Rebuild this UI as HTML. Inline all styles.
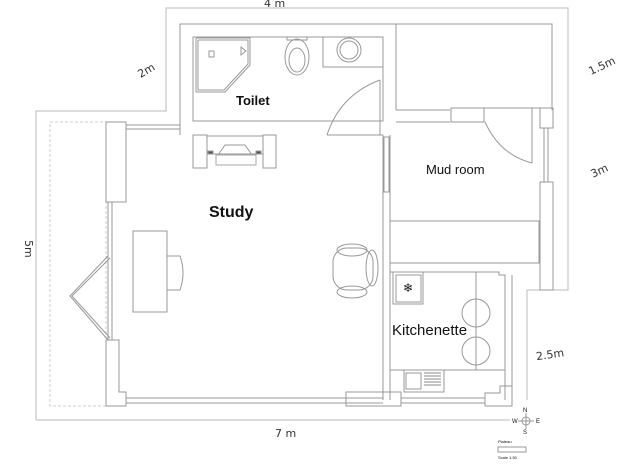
<!DOCTYPE html>
<html><head><style>
body{margin:0;background:#fff;width:640px;height:469px;overflow:hidden}
svg{display:block}
text{font-family:"Liberation Sans",sans-serif;fill:#111}
.h{font-family:"DejaVu Sans",sans-serif;font-size:11px;fill:#333}
</style></head><body>
<svg width="640" height="469" viewBox="0 0 640 469" xmlns="http://www.w3.org/2000/svg" fill="none" stroke="#999" stroke-width="1">
<polyline points="36,420 36,111 166,111 166,8 568,8 568,290 527,290 527,400" stroke="#bbb"/>
<line x1="36" y1="420" x2="510" y2="420" stroke="#bbb"/>
<rect x="50" y="122" width="56" height="284" stroke="#ccc" stroke-dasharray="3,2"/>
<polyline points="180,135 180,24 552,24 552,110"/>
<rect x="193" y="37" width="190" height="84"/>
<line x1="396" y1="24" x2="396" y2="110"/>
<polyline points="196,38 250,38 250,65 225,92 196,92 196,38"/>
<polyline points="198,40 248,40 248,64 224,90 198,90 198,40"/>
<rect x="209" y="51" width="5" height="6"/>
<polygon points="241,47 246,51 241,55"/>
<ellipse cx="297" cy="57" rx="12" ry="18"/><ellipse cx="297" cy="60" rx="8" ry="12"/>
<rect x="287" y="37" width="20" height="3"/>
<rect x="323" y="37" width="60" height="30"/>
<circle cx="349" cy="50" r="12"/><circle cx="349" cy="50" r="9"/>
<path d="M327,135 Q340,95 380,80"/><line x1="380" y1="80" x2="380" y2="135"/><line x1="327" y1="135" x2="383" y2="135"/>
<rect x="193" y="135" width="14" height="33"/><rect x="263" y="135" width="13" height="33"/>
<rect x="207" y="136" width="56" height="18"/>
<polyline points="218,155 225,145 245,145 252,155"/>
<rect x="208" y="151" width="5" height="3" fill="#555"/><rect x="256" y="151" width="5" height="3" fill="#555"/>
<rect x="216" y="155" width="40" height="10" stroke="#aaa"/>
<rect x="106" y="122" width="20" height="80"/>
<line x1="126" y1="125" x2="180" y2="125"/><line x1="126" y1="129" x2="180" y2="129"/>
<line x1="108" y1="202" x2="108" y2="340"/><line x1="112" y1="202" x2="112" y2="340"/>
<polyline points="110,258 72,296 110,338"/><polyline points="108,256 70,296 108,340"/>
<polyline points="106,340 119,340 119,392 126,392 126,406 106,406 106,340"/>
<line x1="126" y1="398" x2="383" y2="398"/><line x1="126" y1="403" x2="383" y2="403"/>
<rect x="133" y="231" width="34" height="81"/>
<path d="M167,256 H180 Q186,273 180,290 H167"/>
<rect x="333" y="248" width="40" height="42" rx="14"/>
<ellipse cx="372" cy="268" rx="6" ry="18"/><ellipse cx="352" cy="250" rx="15" ry="6"/><ellipse cx="352" cy="292" rx="15" ry="6"/>
<line x1="396" y1="110" x2="450" y2="110"/><line x1="396" y1="122" x2="450" y2="122"/>
<rect x="451" y="108" width="33" height="14"/>
<line x1="484" y1="108" x2="540" y2="108"/>
<path d="M485,122 Q500,155 532,163"/><line x1="532" y1="108" x2="532" y2="163"/>
<rect x="540" y="108" width="13" height="20"/>
<line x1="544" y1="128" x2="544" y2="182"/><line x1="548" y1="128" x2="548" y2="182"/>
<rect x="540" y="182" width="13" height="108"/>
<line x1="383" y1="135" x2="383" y2="400"/><line x1="390" y1="135" x2="390" y2="400"/>
<rect x="384" y="137" width="5" height="55"/>
<rect x="390" y="221" width="149" height="42"/>
<polyline points="390,272 499,272 499,275 505,275 505,400"/>
<line x1="512" y1="275" x2="512" y2="400"/>
<rect x="393" y="272" width="30" height="32"/><rect x="396" y="275" width="25" height="27"/>
<text x="408" y="292" font-size="12" text-anchor="middle" stroke="none">❄</text>
<line x1="476" y1="272" x2="476" y2="370"/>
<circle cx="476" cy="313" r="14"/><circle cx="476" cy="351" r="14"/>
<line x1="390" y1="370" x2="505" y2="370"/>
<rect x="404" y="370" width="40" height="22"/><rect x="406" y="373" width="15" height="16"/>
<g stroke="#888"><line x1="424" y1="373" x2="441" y2="373"/><line x1="424" y1="376" x2="441" y2="376"/><line x1="424" y1="379" x2="441" y2="379"/><line x1="424" y1="382" x2="441" y2="382"/><line x1="424" y1="385" x2="441" y2="385"/></g>
<rect x="346" y="392" width="55" height="14"/>
<line x1="401" y1="398" x2="485" y2="398"/><line x1="401" y1="403" x2="485" y2="403"/>
<polyline points="485,406 485,393 500,393 500,386 512,386 512,406 485,406"/>
<circle cx="526" cy="421" r="4"/>
<line x1="518" y1="421" x2="534" y2="421"/><line x1="526" y1="413" x2="526" y2="429"/>
<text x="523" y="412" font-size="6" stroke="none">N</text><text x="523" y="434" font-size="6" stroke="none">S</text>
<text x="512" y="423" font-size="6" stroke="none">W</text><text x="536" y="423" font-size="6" stroke="none">E</text>
<rect x="498" y="447" width="28" height="5"/>
<text x="498" y="443" font-size="4" stroke="none">Plateau</text><text x="498" y="459" font-size="4" stroke="none">Scale 1:50</text>
<text x="236" y="105" font-size="13" font-weight="bold" stroke="none">Toilet</text>
<text x="209" y="217" font-size="16" font-weight="bold" stroke="none">Study</text>
<text x="426" y="174" font-size="13" stroke="none">Mud room</text>
<text x="392" y="335" font-size="15" stroke="none">Kitchenette</text>
<text class="h" x="264" y="7" stroke="none">4 m</text>
<text class="h" x="138" y="75" stroke="none" transform="rotate(-30 145 72)">2m</text>
<text class="h" x="586" y="70" stroke="none" transform="rotate(-25 600 62)">1.5m</text>
<text class="h" x="590" y="175" stroke="none" transform="rotate(-25 598 170)">3m</text>
<text class="h" x="20" y="245" stroke="none" transform="rotate(90 25 245)">5m</text>
<text class="h" x="275" y="437" font-size="12" stroke="none">7 m</text>
<text class="h" x="536" y="358" stroke="none" transform="rotate(-8 552 355)">2.5m</text>
</svg>
</body></html>
